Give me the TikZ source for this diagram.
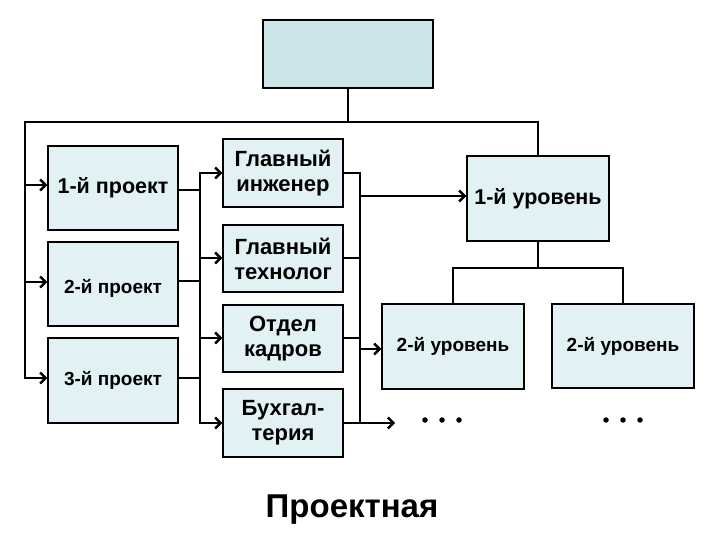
\documentclass[tikz,border=0pt]{standalone}
\usepackage{fontspec}
\setmainfont{Liberation Sans}
\usetikzlibrary{arrows.meta}
\definecolor{boxfill}{HTML}{E2F1F3}
\definecolor{topfill}{HTML}{CCE5E8}
\tikzset{
  box/.style={draw=black, line width=1.3pt, fill=boxfill, inner sep=0pt, align=center, font=\bfseries},
  conn/.style={line width=2.6pt, line cap=rect},
  arr/.style={line width=2.6pt, -{Straight Barb[length=5.5pt,width=11pt,line width=2.4pt]}},
  dotm/.style={fill=black, circle, inner sep=0pt, minimum size=5.5pt}
}
\begin{document}
\begin{tikzpicture}[x=1pt,y=-1pt]
\useasboundingbox (0,0) rectangle (720,540);
% boxes
\node[box, fill=topfill, minimum width=170pt, minimum height=68pt] (top) at (348,54) {};
\node[box, minimum width=130pt, minimum height=84pt, font=\bfseries\fontsize{21.5}{25}\selectfont] (p1) at (113,188) {1-й проект};
\node[box, minimum width=130pt, minimum height=84pt, font=\bfseries\fontsize{19}{22}\selectfont, text depth=0pt] (p2) at (113,284) {\raisebox{-4pt}{2-й проект}};
\node[box, minimum width=130pt, minimum height=85pt, font=\bfseries\fontsize{19}{22}\selectfont] (p3) at (113,380.5) {3-й проект};
\node[box, minimum width=120pt, minimum height=68pt, font=\bfseries\fontsize{22}{25}\selectfont] (d1) at (283,173) {Главный\\инженер};
\node[box, minimum width=120pt, minimum height=67pt, font=\bfseries\fontsize{22}{25}\selectfont] (d2) at (283,258.5) {Главный\\технолог};
\node[box, minimum width=120pt, minimum height=67pt, font=\bfseries\fontsize{22}{25}\selectfont] (d3) at (283,338.5) {Отдел\\кадров};
\node[box, minimum width=120pt, minimum height=68pt, font=\bfseries\fontsize{22}{25}\selectfont] (d4) at (283,423) {Бухгал-\\терия};
\node[box, minimum width=142pt, minimum height=85pt, font=\bfseries\fontsize{21.5}{25}\selectfont] (l1) at (538,198.5) {1-й уровень};
\node[box, minimum width=142pt, minimum height=85pt, font=\bfseries\fontsize{19}{22}\selectfont] (l2a) at (453,346.5) {2-й уровень};
\node[box, minimum width=142pt, minimum height=84pt, font=\bfseries\fontsize{19}{22}\selectfont] (l2b) at (623,346) {2-й уровень};
% coordinates
\coordinate (bl) at (25,122);
\coordinate (bb) at (25,378);
\coordinate (va) at (200,173);
\coordinate (vb) at (200,423);
\coordinate (wa) at (360,173);
\coordinate (wb) at (360,423);
\coordinate (fe) at (395,423);
\coordinate (lb) at (538,268);
% top distribution
\draw[conn] (top.south) -- (top.south |- bl);
\draw[conn] (bl) -- (l1.north |- bl) -- (l1.north);
\draw[conn] (bl) -- (bb);
\draw[arr] (25,185) -- (p1.west |- 0,185);
\draw[arr] (25,282) -- (p2.west |- 0,282);
\draw[arr] (bb) -- (p3.west |- bb);
% projects to departments
\draw[conn] (p1.east |- 0,190) -- (200,190);
\draw[conn] (p2.east |- 0,281) -- (200,281);
\draw[conn] (p3.east |- 0,378) -- (200,378);
\draw[conn] (va) -- (vb);
\draw[arr] (va) -- (d1.west |- va);
\draw[arr] (200,258) -- (d2.west |- 0,258);
\draw[arr] (200,338) -- (d3.west |- 0,338);
\draw[arr] (vb) -- (d4.west |- vb);
% departments right
\draw[conn] (d1.east |- wa) -- (wa);
\draw[conn] (d2.east |- 0,258) -- (360,258);
\draw[conn] (d3.east |- 0,338) -- (360,338);
\draw[conn] (wa) -- (wb);
\draw[arr] (360,196) -- (l1.west |- 0,196);
\draw[arr] (360,349) -- (l2a.west |- 0,349);
\draw[arr] (d4.east |- fe) -- (fe);
% level tree
\draw[conn] (l1.south) -- (lb);
\draw[conn] (l2a.north) -- (l2a.north |- lb) -- (l2b.north |- lb) -- (l2b.north);
% dots
\node[dotm] (da1) at (425,420) {};
\node[dotm] (da2) at (442,420) {};
\node[dotm] (da3) at (459,420) {};
\node[dotm] (db1) at (606,420) {};
\node[dotm] (db2) at (623,420) {};
\node[dotm] (db3) at (640,420) {};
% title
\node[font=\bfseries\fontsize{33}{36}\selectfont, anchor=base] (title) at (352,517) {Проектная};
\end{tikzpicture}
\end{document}
